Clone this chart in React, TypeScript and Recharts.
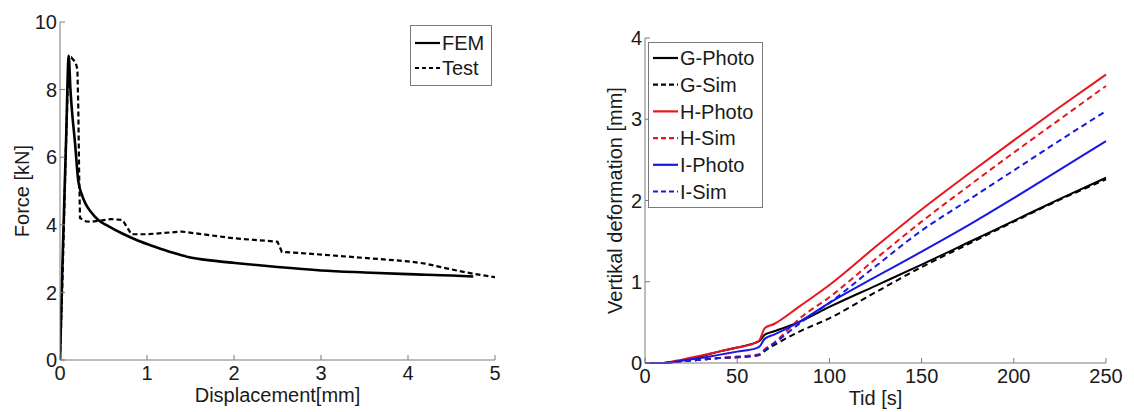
import React from 'react';
import { LineChart, Line, XAxis, YAxis, Legend } from 'recharts';

// left plot: force vs displacement
const femX = [0, 0.03, 0.07, 0.1, 0.12, 0.14, 0.17, 0.21, 0.25, 0.29, 0.35, 0.44, 0.55, 0.71, 0.9, 1.09, 1.3, 1.47, 1.75, 2.01, 2.5, 3, 3.5, 4, 4.5, 4.75];
const femY = [0, 3, 6.5, 9, 8.0, 7.3, 6.5, 5.3, 4.9, 4.64, 4.4, 4.14, 3.97, 3.75, 3.53, 3.35, 3.17, 3.05, 2.94, 2.87, 2.75, 2.65, 2.59, 2.54, 2.5, 2.47];
const testX = [0, 0.03, 0.07, 0.1, 0.13, 0.18, 0.2, 0.21, 0.22, 0.23, 0.3, 0.36, 0.45, 0.59, 0.72, 0.82, 1.0, 1.4, 2.0, 2.5, 2.55, 3.0, 3.5, 4.0, 4.2, 4.5, 4.75, 5.0];
const testY = [0, 2.5, 6.5, 8.9, 8.95, 8.8, 8.6, 7.5, 5.5, 4.2, 4.1, 4.09, 4.12, 4.17, 4.14, 3.72, 3.72, 3.8, 3.6, 3.5, 3.2, 3.12, 3.02, 2.92, 2.85, 2.68, 2.55, 2.45];
const forceXTicks = [0, 1, 2, 3, 4, 5];
const forceYTicks = [0, 2, 4, 6, 8, 10];

// right plot: vertical deformation vs time
const tid = [0, 10, 15, 20, 30, 40, 50, 60, 62, 65, 70, 84, 100, 125, 150, 175, 200, 225, 250];
const gPhoto = [0, 0, 0.01, 0.03, 0.08, 0.14, 0.19, 0.25, 0.27, 0.35, 0.39, 0.51, 0.69, 0.95, 1.21, 1.48, 1.75, 2.02, 2.28];
const gSim = [0, 0, 0.01, 0.02, 0.04, 0.06, 0.07, 0.09, 0.1, 0.15, 0.22, 0.39, 0.55, 0.87, 1.18, 1.46, 1.74, 2.01, 2.26];
const hPhoto = [0, 0, 0.02, 0.04, 0.09, 0.14, 0.19, 0.25, 0.28, 0.43, 0.48, 0.7, 0.96, 1.43, 1.89, 2.32, 2.74, 3.15, 3.55];
const hSim = [0, 0, 0.01, 0.02, 0.04, 0.06, 0.08, 0.1, 0.11, 0.17, 0.25, 0.55, 0.81, 1.28, 1.74, 2.17, 2.59, 3.0, 3.41];
const iPhoto = [0, 0, 0.01, 0.03, 0.06, 0.1, 0.14, 0.18, 0.2, 0.3, 0.35, 0.51, 0.74, 1.06, 1.37, 1.69, 2.03, 2.38, 2.73];
const iSim = [0, 0, 0.01, 0.02, 0.04, 0.06, 0.07, 0.09, 0.1, 0.16, 0.24, 0.49, 0.74, 1.19, 1.63, 2.0, 2.37, 2.74, 3.1];
const tidTicks = [0, 50, 100, 150, 200, 250];
const defTicks = [0, 1, 2, 3, 4];

const femData = femX.map((x, i) => ({ x, y: femY[i] }));
const testData = testX.map((x, i) => ({ x, y: testY[i] }));
const defData = tid.map((t, i) => ({
  t,
  gPhoto: gPhoto[i],
  gSim: gSim[i],
  hPhoto: hPhoto[i],
  hSim: hSim[i],
  iPhoto: iPhoto[i],
  iSim: iSim[i],
}));

const FONT = '"Liberation Sans", Arial, sans-serif';
const AXIS = '#7a7a7a';
const TEXT = '#1a1a1a';
const RED = '#e8161c';
const BLUE = '#1818e6';
const TM = 6; // gap between axis and tick label

// matlab style ticks: point inward
const XTick = (props: any) => {
  const { x, y, payload } = props;
  return (
    <g>
      <line x1={x} x2={x} y1={y - TM} y2={y - TM - 5} stroke={AXIS} />
      <text x={x} y={y} dy="0.72em" textAnchor="middle" fontSize={20} fontFamily={FONT} fill={TEXT}>
        {payload.value}
      </text>
    </g>
  );
};

const YTick = (props: any) => {
  const { x, y, payload } = props;
  return (
    <g>
      <line x1={x + 3} x2={x + 8} y1={y} y2={y} stroke={AXIS} />
      <text x={x} y={y} dy="0.36em" textAnchor="end" fontSize={20} fontFamily={FONT} fill={TEXT}>
        {payload.value}
      </text>
    </g>
  );
};

type Item = { name: string; color: string; dash?: string };

const LegendBox = ({ items, width, rowH, top }: { items: Item[]; width: number; rowH: number; top: number }) => {
  const h = top * 2 + rowH * (items.length - 1) + 6;
  return (
    <div style={{ border: `1px solid ${AXIS}`, background: '#fff', width, height: h, boxSizing: 'border-box' }}>
      <svg width={width - 2} height={h - 2} style={{ display: 'block' }}>
        {items.map((it, i) => {
          const cy = top + 2 + i * rowH;
          return (
            <g key={it.name}>
              <line x1={4} x2={29} y1={cy} y2={cy} stroke={it.color} strokeWidth={2.2} strokeDasharray={it.dash} />
              <text x={31} y={cy} dy="0.36em" fontSize={20} fontFamily={FONT} fill={TEXT}>
                {it.name}
              </text>
            </g>
          );
        })}
      </svg>
    </div>
  );
};

const forceItems: Item[] = [
  { name: 'FEM', color: '#000' },
  { name: 'Test', color: '#000', dash: '4 3' },
];

const defItems: Item[] = [
  { name: 'G-Photo', color: '#000' },
  { name: 'G-Sim', color: '#000', dash: '5 3' },
  { name: 'H-Photo', color: RED },
  { name: 'H-Sim', color: RED, dash: '5 3' },
  { name: 'I-Photo', color: BLUE },
  { name: 'I-Sim', color: BLUE, dash: '5 3' },
];

export default function App() {
  return (
    <div style={{ position: 'absolute', left: 0, top: 0, width: 1134, height: 412, background: '#fff', fontFamily: FONT }}>
      <div style={{ position: 'absolute', left: 0, top: 0 }}>
        <LineChart width={560} height={412} margin={{ top: 22, right: 65, bottom: 8, left: 10 }}>
          <XAxis
            type="number"
            dataKey="x"
            domain={[0, 5]}
            ticks={forceXTicks}
            allowDataOverflow
            height={44}
            stroke={AXIS}
            tickSize={0}
            tickMargin={TM}
            tick={<XTick />}
            label={{ value: 'Displacement[mm]', position: 'insideBottom', offset: 2, fontSize: 20, fill: TEXT, fontFamily: FONT }}
          />
          <YAxis
            type="number"
            dataKey="y"
            domain={[0, 10]}
            ticks={forceYTicks}
            allowDataOverflow
            width={50}
            stroke={AXIS}
            tickSize={0}
            tickMargin={3}
            tick={<YTick />}
            label={{ value: 'Force [kN]', angle: -90, position: 'insideLeft', offset: 12, fontSize: 20, fill: TEXT, fontFamily: FONT, style: { textAnchor: 'middle' } }}
          />
          <Line data={femData} dataKey="y" type="monotone" stroke="#000" strokeWidth={2.6} dot={false} isAnimationActive={false} />
          <Line data={testData} dataKey="y" type="linear" stroke="#000" strokeWidth={2.2} strokeDasharray="5 3" dot={false} isAnimationActive={false} />
          <Legend
            layout="vertical"
            align="center"
            verticalAlign="middle"
            wrapperStyle={{ position: 'absolute', left: 410, top: 25, width: 82 }}
            content={() => <LegendBox items={forceItems} width={82} rowH={25} top={15} />}
          />
        </LineChart>
      </div>
      <div style={{ position: 'absolute', left: 560, top: 0 }}>
        <LineChart width={574} height={412} data={defData} margin={{ top: 38, right: 28, bottom: 5, left: 25 }}>
          <XAxis
            type="number"
            dataKey="t"
            domain={[0, 250]}
            ticks={tidTicks}
            height={44}
            stroke={AXIS}
            tickSize={0}
            tickMargin={TM}
            tick={<XTick />}
            label={{ value: 'Tid [s]', position: 'insideBottom', offset: 2, fontSize: 20, fill: TEXT, fontFamily: FONT }}
          />
          <YAxis
            type="number"
            domain={[0, 4]}
            ticks={defTicks}
            width={60}
            stroke={AXIS}
            tickSize={0}
            tickMargin={3}
            tick={<YTick />}
            label={{ value: 'Vertikal deformation [mm]', angle: -90, position: 'insideLeft', offset: 30, fontSize: 20, fill: TEXT, fontFamily: FONT, style: { textAnchor: 'middle' } }}
          />
          <Line dataKey="gPhoto" type="monotone" stroke="#000" strokeWidth={2} dot={false} isAnimationActive={false} />
          <Line dataKey="gSim" type="monotone" stroke="#000" strokeWidth={2} strokeDasharray="6 4" dot={false} isAnimationActive={false} />
          <Line dataKey="hPhoto" type="monotone" stroke={RED} strokeWidth={2} dot={false} isAnimationActive={false} />
          <Line dataKey="hSim" type="monotone" stroke={RED} strokeWidth={2} strokeDasharray="6 4" dot={false} isAnimationActive={false} />
          <Line dataKey="iPhoto" type="monotone" stroke={BLUE} strokeWidth={2} dot={false} isAnimationActive={false} />
          <Line dataKey="iSim" type="monotone" stroke={BLUE} strokeWidth={2} strokeDasharray="6 4" dot={false} isAnimationActive={false} />
          <Legend
            layout="vertical"
            align="center"
            verticalAlign="middle"
            wrapperStyle={{ position: 'absolute', left: 88, top: 42, width: 115 }}
            content={() => <LegendBox items={defItems} width={115} rowH={26.7} top={13} />}
          />
        </LineChart>
      </div>
    </div>
  );
}
